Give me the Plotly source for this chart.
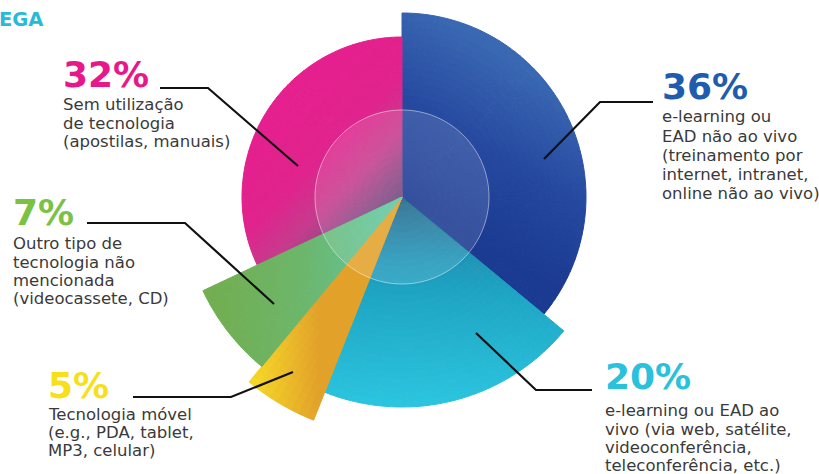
import numpy as np
import plotly.graph_objects as go

# ---------------- data ----------------
categories = [
    "e-learning ou EAD não ao vivo",
    "e-learning ou EAD ao vivo",
    "Tecnologia móvel",
    "Outro tipo de tecnologia não mencionada",
    "Sem utilização de tecnologia",
]
percent = [36, 20, 5, 7, 32]
slice_radius = [184, 210, 240, 220, 160]   # outer radius of each petal (radial-axis units)
label_lines = [
    ["e-learning ou", "EAD não ao vivo", "(treinamento por", "internet, intranet,", "online não ao vivo)"],
    ["e-learning ou EAD ao", "vivo (via web, satélite,", "videoconferência,", "teleconferência, etc.)"],
    ["Tecnologia móvel", "(e.g., PDA, tablet,", "MP3, celular)"],
    ["Outro tipo de", "tecnologia não", "mencionada", "(videocassete, CD)"],
    ["Sem utilização", "de tecnologia", "(apostilas, manuais)"],
]
corner_text = "EGA"

# ---------------- style ----------------
W, H = 819, 474
CX, CY = 402, 197          # chart centre in pixels
R1 = 197                   # upper polar radius in px (= radial range)
R2 = 245                   # lower half-sector polar radius in px (= radial range)
INNER_R = 87
# which polar subplot each petal lives in (lower petals need the larger radius)
petal_subplot = ["polar", "polar2", "polar2", "polar2", "polar"]

pct_colors = ["#1f5cad", "#29c1dc", "#f7df1b", "#7bc144", "#e6188b"]
gradients = [
    dict(p0=(0, 0), p1=(90, 150), stops=[(0, "#1b3a91"), (0.5, "#2649a0"), (1, "#3a68b2")]),
    dict(p0=(0, 0), p1=(0, -210), stops=[(0, "#22648a"), (0.3, "#1f95b8"), (0.45, "#1ea4c3"), (1, "#2cc5df")]),
    dict(p0=(-150, 0), p1=(-85, 0), stops=[(0, "#f6d927"), (1, "#e2a22a")]),
    dict(p0=(-200, 0), p1=(0, 0), stops=[(0, "#73ad4e"), (0.5, "#6cb66b"), (1, "#5fc9a8")]),
    dict(p0=(-110, 110), p1=(0, 0), stops=[(0, "#e61f8e"), (0.45, "#e0238d"), (0.7, "#c53c8c"),
                                           (0.84, "#9a4688"), (1, "#6e4a7e")]),
]
# label placement (px): percent left x, percent mid y, body first-line mid y, line step
label_pos = [
    (661, 86.5, 117.0, 19.2),
    (604, 376.0, 410.8, 18.3),
    (47, 385.0, 414.2, 18.1),
    (12, 212.5, 243.8, 18.3),
    (62, 74.7, 104.5, 18.6),
]
# leader lines (px)
leaders = [
    [(544, 159), (600, 102), (653, 102)],
    [(476, 333), (536, 390), (592, 390)],
    [(293, 372), (231, 397), (133, 397)],
    [(274, 304), (185, 223), (87, 223)],
    [(298, 166), (208, 88), (160, 88)],
]
DISC_FILL = "rgba(255,255,255,0.12)"
DISC_LINE = dict(color="rgba(255,255,255,0.6)", width=0.8)


def hex2rgb(h):
    h = h.lstrip("#")
    return np.array([int(h[i:i + 2], 16) for i in (0, 2, 4)], dtype=float)


def grad_color(g, x, y):
    p0 = np.array(g["p0"], float)
    p1 = np.array(g["p1"], float)
    v = p1 - p0
    t = float(np.dot(np.array([x, y]) - p0, v) / np.dot(v, v))
    t = min(max(t, 0.0), 1.0)
    stops = g["stops"]
    for (t0, c0), (t1, c1) in zip(stops[:-1], stops[1:]):
        if t <= t1:
            f = 0 if t1 == t0 else (t - t0) / (t1 - t0)
            c = hex2rgb(c0) * (1 - f) + hex2rgb(c1) * f
            return "rgb(%d,%d,%d)" % tuple(np.round(c).astype(int))
    c = hex2rgb(stops[-1][1])
    return "rgb(%d,%d,%d)" % tuple(c.astype(int))


fig = go.Figure()

start = 0.0
for i, (p, R) in enumerate(zip(percent, slice_radius)):
    w = p * 3.6
    na = max(4, int(np.ceil(w / 2.0)))
    nr = int(np.ceil(R / 7.0))
    th_e = np.linspace(start, start + w, na + 1)
    r_e = np.linspace(0, R, nr + 1)
    thetas, widths, bases, lens, cols = [], [], [], [], []
    for a0, a1 in zip(th_e[:-1], th_e[1:]):
        for r0, r1 in zip(r_e[:-1], r_e[1:]):
            tc = np.radians((a0 + a1) / 2)
            rc = (r0 + r1) / 2
            x, y = rc * np.sin(tc), rc * np.cos(tc)
            thetas.append((a0 + a1) / 2)
            widths.append(a1 - a0)
            bases.append(r0)
            lens.append(r1 - r0)
            cols.append(grad_color(gradients[i], x, y))
    fig.add_trace(go.Barpolar(
        r=lens, base=bases, theta=thetas, width=widths,
        marker=dict(color=cols, line=dict(color=cols, width=1.0)),
        name=categories[i], hoverinfo="skip", showlegend=False, subplot=petal_subplot[i],
    ))
    start += w

# translucent inner disc: full disc in the upper polar ...
circ_t = np.linspace(0, 360, 181)
fig.add_trace(go.Scatterpolar(
    r=[INNER_R] * len(circ_t), theta=circ_t, mode="lines", fill="toself",
    fillcolor=DISC_FILL, line=DISC_LINE, hoverinfo="skip", showlegend=False, subplot="polar",
))
# ... and the wedge over the lower petals (which sit in polar2, drawn on top)
low_a0 = percent[0] * 3.6
low_a1 = sum(percent[:4]) * 3.6
arc_t = np.linspace(low_a0, low_a1, 60)
fig.add_trace(go.Scatterpolar(
    r=[0] + [INNER_R] * len(arc_t) + [0], theta=[low_a0] + list(arc_t) + [low_a1],
    mode="lines", fill="toself", fillcolor=DISC_FILL, line=dict(width=0),
    hoverinfo="skip", showlegend=False, subplot="polar2",
))
fig.add_trace(go.Scatterpolar(
    r=[INNER_R] * len(arc_t), theta=arc_t, mode="lines", line=DISC_LINE,
    hoverinfo="skip", showlegend=False, subplot="polar2",
))

annotations = []
for i, p in enumerate(percent):
    lx, ly, by, step = label_pos[i]
    annotations.append(dict(
        x=(lx - 1) / W, y=1 - ly / H, xref="paper", yref="paper", xanchor="left", yanchor="middle",
        text=f"{p}%", showarrow=False,
        font=dict(family="DejaVu Sans", size=36, color=pct_colors[i], weight="bold"),
    ))
    for j, line in enumerate(label_lines[i]):
        annotations.append(dict(
            x=(lx - 1) / W, y=1 - (by + j * step) / H, xref="paper", yref="paper",
            xanchor="left", yanchor="middle", text=line, showarrow=False,
            font=dict(family="DejaVu Sans", size=16.5, color="#3a3a3a"),
        ))
annotations.append(dict(
    x=-3 / W, y=1 - 19.7 / H, xref="paper", yref="paper", xanchor="left", yanchor="middle",
    text=corner_text, showarrow=False,
    font=dict(family="DejaVu Sans", size=19.5, color="#29b9d9", weight="bold"),
))

shapes = []
for pts in leaders:
    path = "M " + " L ".join(f"{x / W:.5f},{1 - y / H:.5f}" for x, y in pts)
    shapes.append(dict(type="path", path=path, xref="paper", yref="paper",
                       line=dict(color="#111111", width=2.2)))

hidden_radial = dict(autorange=False, showline=False, showgrid=False, showticklabels=False, ticks="")
hidden_angular = dict(rotation=90, direction="clockwise", showline=False, showgrid=False,
                      showticklabels=False, ticks="")

fig.update_layout(
    width=W, height=H, margin=dict(l=0, r=0, t=0, b=0),
    paper_bgcolor="white", plot_bgcolor="white", showlegend=False,
    polar=dict(
        domain=dict(x=[(CX - R1) / W, (CX + R1) / W], y=[(H - CY - R1) / H, 1.0]),
        bgcolor="rgba(0,0,0,0)", barmode="overlay",
        radialaxis=dict(range=[0, R1], **hidden_radial),
        angularaxis=hidden_angular,
    ),
    polar2=dict(
        domain=dict(x=[(CX - R2) / W, (CX + R2) / W], y=[(H - CY - R2) / H, (H - CY) / H]),
        sector=[180, 360],
        bgcolor="rgba(0,0,0,0)", barmode="overlay",
        radialaxis=dict(range=[0, R2], **hidden_radial),
        angularaxis=hidden_angular,
    ),
    annotations=annotations, shapes=shapes,
)

fig.write_html("out.html", config={"displayModeBar": False},
               post_script="document.body.style.margin='0px';")
